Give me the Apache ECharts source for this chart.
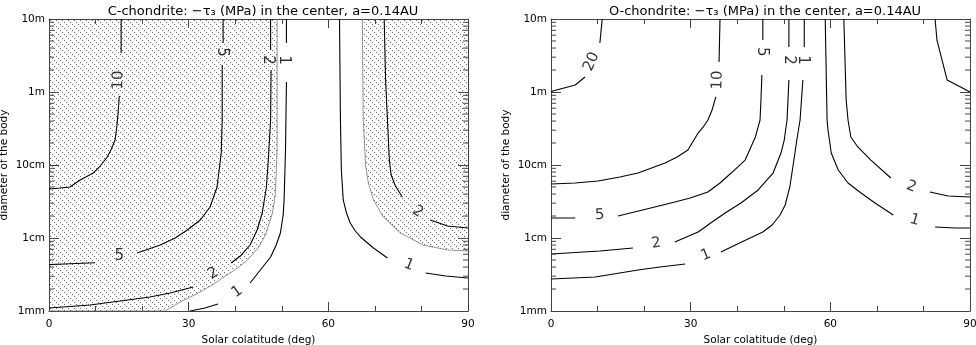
<!DOCTYPE html>
<html><head><meta charset="utf-8">
<script src="https://cdn.jsdelivr.net/npm/echarts@6/dist/echarts.min.js"></script>
<style>html,body{margin:0;padding:0;background:#fff}#c{width:976px;height:345px}</style>
</head><body><div id="c"></div><script>
const FONT = 'DejaVu Sans';
// y axis: log10 of body diameter in metres
const yTickLabels = {'-3':'1mm','-2':'1cm','-1':'10cm','0':'1m','1':'10m'};
const yMinorTickValues = [0.002,0.003,0.004,0.005,0.006,0.007,0.008,0.009,
  0.02,0.03,0.04,0.05,0.06,0.07,0.08,0.09,0.2,0.3,0.4,0.5,0.6,0.7,0.8,0.9,
  2,3,4,5,6,7,8,9];
const titles = ['C-chondrite: \u2212\u03c4\u2083 (MPa) in the center, a=0.14AU',
                'O-chondrite: \u2212\u03c4\u2083 (MPa) in the center, a=0.14AU'];

// ---- C-chondrite contours: [colatitude deg, log10 diameter m] ----
const C10a = [[15.5,1.0],[15.5,0.534]];
const C10b = [[15.1,-0.055],[14.8,-0.315],[14.6,-0.452],[14.2,-0.658],[13.3,-0.795],[12.5,-0.890],[11.0,-1.014],[9.5,-1.110],[6.7,-1.205],[4.5,-1.301],[2.4,-1.315],[0,-1.329]];
const C5a = [[37.4,1.0],[37.4,0.671]];
const C5b = [[37.2,0.370],[37.2,-0.384],[37.0,-0.836],[36.1,-1.301],[34.6,-1.575],[32.5,-1.753],[29.7,-1.890],[27.1,-2.000],[23.9,-2.096],[18.9,-2.205]];
const C5c = [[9.9,-2.340],[4.5,-2.352],[0,-2.365]];
const C2a = [[47.6,1.0],[47.6,0.575]];
const C2b = [[47.7,0.301],[47.6,-0.384],[47.1,-0.932],[46.7,-1.301],[45.8,-1.658],[44.7,-1.890],[43.2,-2.096],[41.1,-2.247],[39.1,-2.342]];
const C2c = [[31.0,-2.671],[26.0,-2.753],[21.7,-2.808],[15.3,-2.863],[8.8,-2.918],[0,-2.959]];
const C1a = [[51.0,1.0],[51.0,0.671]];
const C1b = [[51.0,0.137],[50.8,-0.795],[50.5,-1.479],[50.3,-1.685],[49.7,-1.932],[48.8,-2.096],[47.6,-2.260],[45.4,-2.438],[43.2,-2.616]];
const C1c = [[36.3,-2.904],[33.5,-2.959],[30.3,-3.0]];
const C1Ra = [[62.4,1.0],[62.6,-0.384],[62.8,-1.068],[63.2,-1.479],[63.9,-1.658],[64.7,-1.795],[65.8,-1.904],[66.9,-1.986],[69.7,-2.137],[72.7,-2.274]];
const C1Rb = [[80.9,-2.479],[85.2,-2.521],[90,-2.548]];
const C2Ra = [[72.0,1.0],[72.3,0.164],[72.7,-0.384],[73.1,-0.932],[73.5,-1.137],[74.4,-1.288],[75.9,-1.438]];
const C2Rb = [[81.9,-1.753],[85.6,-1.836],[90,-1.863]];
// hatched regions (boundary curves)
const hatchL = [[0,-3],[24.9,-3],[28.2,-2.877],[32.5,-2.740],[35.7,-2.616],[38.9,-2.479],[41.1,-2.384],[42.6,-2.301],[44.9,-2.137],[46.5,-1.959],[48.0,-1.658],[48.6,-1.411],[49.0,-0.795],[49.0,1.0]];
const hatchR = [[67.3,1.0],[67.5,-0.384],[68.0,-1.0],[68.6,-1.247],[69.7,-1.479],[71.8,-1.712],[75.5,-1.932],[80.4,-2.096],[85.6,-2.164],[90,-2.178]];
const C_labels = [[14.9,0.164,'10'],[37.1,0.548,'5'],[47.0,0.438,'2'],[50.4,0.438,'1'],[15.1,-2.247,'5'],[35.3,-2.484,'2'],[40.4,-2.736,'1'],[79.2,-1.640,'2'],[77.3,-2.370,'1']];
const C_labelAngles = [88,-90,-90,-90,0,32,35,-35,-22];

// ---- O-chondrite contours ----
const O20a = [[11.0,1.0],[10.5,0.671]];
const O20b = [[7.3,0.205],[5.2,0.096],[0.4,0.014],[0,0.0]];
const O20R = [[82.5,1.0],[82.9,0.712],[85.1,0.164],[90,0.0]];
const O10a = [[36.3,1.0],[36.1,0.411]];
const O10b = [[35.4,-0.068],[34.6,-0.247],[33.7,-0.384],[32.7,-0.479],[31.6,-0.562],[29.4,-0.795],[27.1,-0.890],[24.5,-0.973],[18.7,-1.110],[14.8,-1.164],[10.1,-1.219],[5.2,-1.247],[0,-1.260]];
const O5a = [[45.5,1.0],[45.5,0.712]];
const O5b = [[45.3,0.233],[45.1,-0.110],[44.9,-0.384],[43.9,-0.616],[41.7,-0.932],[38.7,-1.110],[36.3,-1.247],[33.7,-1.370],[29.9,-1.452],[26.6,-1.507],[22.3,-1.575],[14.4,-1.699]];
const O5c = [[5.2,-1.726],[0,-1.726]];
const O2a = [[51.1,1.0],[51.1,0.616]];
const O2b = [[51.1,0.164],[50.7,-0.384],[50.1,-0.658],[49.4,-0.836],[47.7,-1.110],[44.5,-1.342],[40.8,-1.521],[37.4,-1.658],[34.6,-1.781],[31.6,-1.918],[26.6,-2.055]];
const O2c = [[17.6,-2.137],[10.5,-2.178],[0,-2.219]];
const O1a = [[54.4,1.0],[54.4,0.616]];
const O1b = [[54.1,0.164],[53.5,-0.384],[52.8,-0.658],[52.4,-0.836],[51.3,-1.301],[50.3,-1.548],[49.2,-1.685],[47.5,-1.822],[45.5,-1.918],[42.3,-2.014],[36.5,-2.192]];
const O1c = [[28.8,-2.356],[23.4,-2.397],[18.7,-2.438],[9.5,-2.534],[0,-2.562]];
const O1Ra = [[58.9,1.0],[59.3,-0.384],[59.5,-0.521],[60.2,-0.836],[61.7,-1.068],[63.8,-1.247],[66.6,-1.384],[69.6,-1.521],[73.5,-1.685]];
const O1Rb = [[82.5,-1.849],[86.8,-1.863],[90,-1.863]];
const O2Ra = [[62.9,1.0],[63.4,-0.110],[63.8,-0.384],[64.4,-0.616],[65.9,-0.753],[68.7,-0.932],[73.0,-1.178]];
const O2Rb = [[81.4,-1.370],[85.3,-1.425],[90,-1.438]];
const O_labels = [[8.7,0.415,'20'],[35.8,0.164,'10'],[45.4,0.552,'5'],[51.1,0.438,'2'],[54.1,0.438,'1'],[10.5,-1.685,'5'],[22.6,-2.073,'2'],[33.3,-2.233,'1'],[77.4,-1.297,'2'],[78.1,-1.753,'1']];
const O_labelAngles = [66,88,-90,-90,-90,3,10,22,-20,-16];

const C_lines = [C10a,C10b,C5a,C5b,C5c,C2a,C2b,C2c,C1a,C1b,C1c,C1Ra,C1Rb,C2Ra,C2Rb];
const O_lines = [O20a,O20b,O20R,O10a,O10b,O5a,O5b,O5c,O2a,O2b,O2c,O1a,O1b,O1c,O1Ra,O1Rb,O2Ra,O2Rb];

function makeHatch(){
  const c = document.createElement('canvas'); c.width = 6; c.height = 6;
  const g = c.getContext('2d'); g.fillStyle = '#6a6a6a';
  for (let i = 0; i < 6; i += 2) g.fillRect(i, i, 1, 1);
  return c;
}
const hatchPattern = {image: makeHatch(), repeat: 'repeat'};

const AX = '#444';
const grids = [
  {left: 49, top: 19, width: 419, height: 292, containLabel: false, outerBoundsMode: 'none'},
  {left: 551, top: 19, width: 419, height: 292, containLabel: false, outerBoundsMode: 'none'}
];
const xAxes = [], yAxes = [];
[0,1].forEach(g => {
  xAxes.push({gridIndex: g, type: 'value', min: 0, max: 90, interval: 30, position: 'bottom',
    axisLine: {show: true, onZero: false, lineStyle: {color: AX, width: 1}},
    axisTick: {show: true, inside: true, length: 9, lineStyle: {color: AX}},
    minorTick: {show: true, splitNumber: 3, length: 5, lineStyle: {color: AX}},
    splitLine: {show: false}, minorSplitLine: {show: false},
    axisLabel: {color: '#000', fontSize: 10.5, fontFamily: FONT, margin: 8},
    name: 'Solar colatitude (deg)', nameLocation: 'middle', nameGap: 21,
    nameTextStyle: {color: '#000', fontSize: 10.5, fontFamily: FONT}});
  xAxes.push({gridIndex: g, type: 'value', min: 0, max: 90, interval: 30, position: 'top',
    axisLine: {show: true, onZero: false, lineStyle: {color: AX, width: 1}},
    axisTick: {show: true, inside: true, length: 9, lineStyle: {color: AX}},
    minorTick: {show: true, splitNumber: 3, length: 5, lineStyle: {color: AX}},
    splitLine: {show: false}, axisLabel: {show: false}});
  yAxes.push({gridIndex: g, type: 'value', min: -3, max: 1, interval: 1, position: 'left',
    axisLine: {show: true, onZero: false, lineStyle: {color: AX, width: 1}},
    axisTick: {show: true, inside: true, length: 10, lineStyle: {color: AX}},
    splitLine: {show: false},
    axisLabel: {color: '#000', fontSize: 10.5, fontFamily: FONT, margin: 4,
      formatter: v => yTickLabels[String(Math.round(v))]},
    name: 'diameter of the body', nameLocation: 'middle', nameGap: 39,
    nameTextStyle: {color: '#000', fontSize: 10.5, fontFamily: FONT}});
  yAxes.push({gridIndex: g, type: 'value', min: -3, max: 1, interval: 1, position: 'right',
    axisLine: {show: true, onZero: false, lineStyle: {color: AX, width: 1}},
    axisTick: {show: true, inside: true, length: 10, lineStyle: {color: AX}},
    splitLine: {show: false}, axisLabel: {show: false}});
});

const series = [];
function addHatch(data, g){
  series.push({type: 'line', xAxisIndex: 2*g, yAxisIndex: 2*g, data: data, showSymbol: false,
    silent: true, z: 1, lineStyle: {color: '#777', width: 0.8},
    areaStyle: {origin: 'end', color: hatchPattern, opacity: 1}});
}
addHatch(hatchL, 0); addHatch(hatchR, 0);
function addLines(list, g){
  list.forEach(d => series.push({type: 'line', xAxisIndex: 2*g, yAxisIndex: 2*g, data: d,
    showSymbol: false, silent: true, z: 3, lineStyle: {color: '#000', width: 1.1}}));
}
addLines(C_lines, 0); addLines(O_lines, 1);
function addLabels(list, angles, g){
  series.push({type: 'scatter', xAxisIndex: 2*g, yAxisIndex: 2*g, symbolSize: 1, silent: true, z: 4,
    itemStyle: {color: 'rgba(0,0,0,0)'},
    label: {show: true, position: 'inside', color: '#000', fontSize: 15, fontFamily: FONT,
      formatter: p => p.name},
    data: list.map((l, i) => ({value: [l[0], l[1]], name: l[2], label: {rotate: angles[i]}}))});
}
addLabels(C_labels, C_labelAngles, 0); addLabels(O_labels, O_labelAngles, 1);
function minorTickRender(params, api){
  const cs = params.coordSys;
  const y = api.coord([0, api.value(1)])[1];
  const st = {stroke: AX, lineWidth: 1};
  return {type: 'group', children: [
    {type: 'line', shape: {x1: cs.x, y1: y, x2: cs.x + 5, y2: y}, style: st},
    {type: 'line', shape: {x1: cs.x + cs.width, y1: y, x2: cs.x + cs.width - 5, y2: y}, style: st}
  ]};
}
[0,1].forEach(g => series.push({type: 'custom', xAxisIndex: 2*g, yAxisIndex: 2*g, silent: true, z: 5,
  renderItem: minorTickRender, encode: {x: 0, y: 1},
  data: yMinorTickValues.map(v => [0, Math.log10(v)])}));

const chart = echarts.init(document.getElementById('c'), null, {renderer: 'canvas'});
chart.setOption({
  animation: false,
  backgroundColor: '#fff',
  title: titles.map((t, i) => ({text: t, left: i === 0 ? 258 : 760, top: 0, textAlign: 'center',
    textStyle: {fontSize: 13, fontWeight: 'normal', fontFamily: FONT, color: '#000'}})),
  grid: grids, xAxis: xAxes, yAxis: yAxes, series: series
});
</script></body></html>
